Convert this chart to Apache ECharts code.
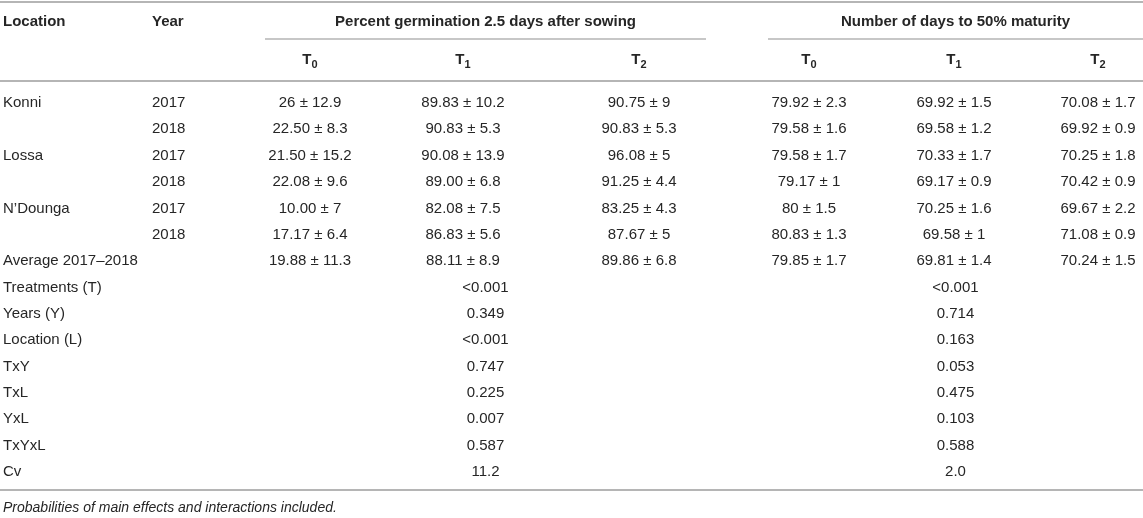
<!DOCTYPE html>
<html>
<head>
<meta charset="utf-8">
<title>Germination and maturity table</title>
<script src="https://cdn.jsdelivr.net/npm/echarts@6/dist/echarts.min.js"></script>
<style>
  html, body { margin: 0; padding: 0; background: #fff; }
  #main { width: 1143px; height: 518px; }
</style>
</head>
<body>
<div id="main"></div>
<script>
// table data
const locations = ['Konni', '', 'Lossa', '', 'N\u2019Dounga', '', 'Average 2017\u20132018']
const years = ['2017', '2018', '2017', '2018', '2017', '2018', '']
const germT0 = ['26 \u00b1 12.9', '22.50 \u00b1 8.3', '21.50 \u00b1 15.2', '22.08 \u00b1 9.6', '10.00 \u00b1 7', '17.17 \u00b1 6.4', '19.88 \u00b1 11.3']
const germT1 = ['89.83 \u00b1 10.2', '90.83 \u00b1 5.3', '90.08 \u00b1 13.9', '89.00 \u00b1 6.8', '82.08 \u00b1 7.5', '86.83 \u00b1 5.6', '88.11 \u00b1 8.9']
const germT2 = ['90.75 \u00b1 9', '90.83 \u00b1 5.3', '96.08 \u00b1 5', '91.25 \u00b1 4.4', '83.25 \u00b1 4.3', '87.67 \u00b1 5', '89.86 \u00b1 6.8']
const matT0 = ['79.92 \u00b1 2.3', '79.58 \u00b1 1.6', '79.58 \u00b1 1.7', '79.17 \u00b1 1', '80 \u00b1 1.5', '80.83 \u00b1 1.3', '79.85 \u00b1 1.7']
const matT1 = ['69.92 \u00b1 1.5', '69.58 \u00b1 1.2', '70.33 \u00b1 1.7', '69.17 \u00b1 0.9', '70.25 \u00b1 1.6', '69.58 \u00b1 1', '69.81 \u00b1 1.4']
const matT2 = ['70.08 \u00b1 1.7', '69.92 \u00b1 0.9', '70.25 \u00b1 1.8', '70.42 \u00b1 0.9', '69.67 \u00b1 2.2', '71.08 \u00b1 0.9', '70.24 \u00b1 1.5']
const effects = ['Treatments (T)', 'Years (Y)', 'Location (L)', 'TxY', 'TxL', 'YxL', 'TxYxL', 'Cv']
const germP = ['<0.001', '0.349', '<0.001', '0.747', '0.225', '0.007', '0.587', '11.2']
const matP = ['<0.001', '0.714', '0.163', '0.053', '0.475', '0.103', '0.588', '2.0']
const groupTitles = ['Percent germination 2.5 days after sowing', 'Number of days to 50% maturity']
const treatments = ['0', '1', '2']
const footnote = 'Probabilities of main effects and interactions included.'

;(function () {
  let chart = echarts.init(document.getElementById('main'), null, { renderer: 'canvas' })

  // layout
  let font = '"Liberation Sans", Arial, Helvetica, sans-serif'
  let color = '#262626'
  let lineColor = '#b5b5b5'
  let W = 1143
  let colLoc = 3
  let colYear = 152
  let germCols = [310, 463, 639]
  let matCols = [809, 954, 1098]
  let groupSpan = [[265, 706], [768, 1143]]
  let rowTop = 103
  let rowH = 26.35

  let els = []
  let txt = function (s, x, y, align, weight, size, italic) {
    els.push({
      type: 'text',
      silent: true,
      style: {
        text: s,
        x: x,
        y: y,
        align: align,
        verticalAlign: 'middle',
        fill: color,
        font: (italic ? 'italic ' : '') + (weight || 'normal') + ' ' + (size || 15) + 'px ' + font
      }
    })
  }
  let hline = function (x1, x2, y, w) {
    els.push({
      type: 'line',
      silent: true,
      shape: { x1: x1, y1: y, x2: x2, y2: y },
      style: { stroke: lineColor, lineWidth: w || 1.5 }
    })
  }

  // rules
  hline(0, W, 2, 2)
  hline(groupSpan[0][0], groupSpan[0][1], 39)
  hline(groupSpan[1][0], groupSpan[1][1], 39)
  hline(0, W, 81, 2)
  hline(0, W, 490, 2)

  // header
  txt('Location', colLoc, 22, 'left', 'bold')
  txt('Year', colYear, 22, 'left', 'bold')
  groupTitles.forEach(function (t, i) {
    let c = (groupSpan[i][0] + groupSpan[i][1]) / 2
    txt(t, c, 22, 'center', 'bold')
  })
  let subCols = germCols.concat(matCols)
  subCols.forEach(function (x, i) {
    els.push({
      type: 'text',
      silent: true,
      style: {
        text: '{t|T}{s|' + treatments[i % 3] + '}',
        x: x,
        y: 60,
        align: 'center',
        verticalAlign: 'middle',
        fill: color,
        rich: {
          t: { font: 'bold 15px ' + font, fill: color, verticalAlign: 'bottom' },
          s: { font: 'bold 11px ' + font, fill: color, verticalAlign: 'bottom', padding: [0, 0, -3, 0] }
        }
      }
    })
  })

  // body rows
  locations.forEach(function (loc, r) {
    let y = rowTop + r * rowH
    if (loc) txt(loc, colLoc, y, 'left')
    if (years[r]) txt(years[r], colYear, y, 'left')
    ;[germT0, germT1, germT2].forEach(function (arr, c) { txt(arr[r], germCols[c], y, 'center') })
    ;[matT0, matT1, matT2].forEach(function (arr, c) { txt(arr[r], matCols[c], y, 'center') })
  })
  effects.forEach(function (e, k) {
    let y = rowTop + (locations.length + k) * rowH
    txt(e, colLoc, y, 'left')
    txt(germP[k], (groupSpan[0][0] + groupSpan[0][1]) / 2, y, 'center')
    txt(matP[k], (groupSpan[1][0] + groupSpan[1][1]) / 2, y, 'center')
  })

  txt(footnote, colLoc, 508, 'left', 'normal', 14, true)

  chart.setOption({
    backgroundColor: '#fff',
    animation: false,
    graphic: { elements: els }
  })
})()
</script>
</body>
</html>
